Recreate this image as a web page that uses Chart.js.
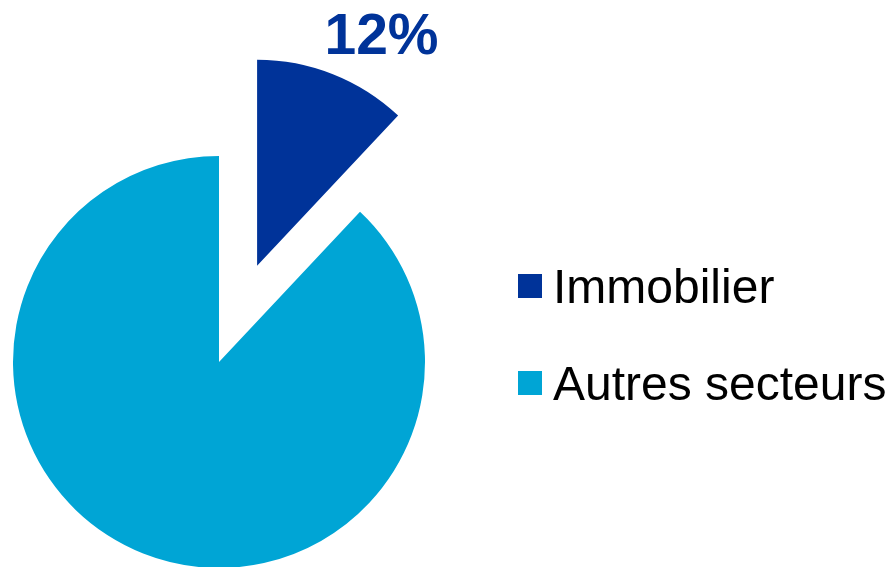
<!DOCTYPE html>
<html><head><meta charset="utf-8">
<style>html,body{margin:0;padding:0;background:#fff;overflow:hidden}
#wrap{position:relative;width:894px;height:567px}</style>
<script src="https://cdn.jsdelivr.net/npm/chart.js@4/dist/chart.umd.min.js"></script>
</head><body><div id="wrap"><canvas id="c" width="894" height="567"></canvas></div>
<script>
const categories = ['Immobilier', 'Autres secteurs'];
const shares = [12, 88];
const sliceColors = ['#003399', '#00A5D5'];

const EXPLODE_INDEX = 0;
const EXPLODE_DIST = 103.5;

const explodePlugin = {
  id: 'explode',
  afterDatasetsUpdate(chart) {
    const el = chart.getDatasetMeta(0).data[EXPLODE_INDEX];
    const mid = (el.startAngle + el.endAngle) / 2;
    el.x += Math.cos(mid) * EXPLODE_DIST;
    el.y += Math.sin(mid) * EXPLODE_DIST;
  }
};

const labelPlugin = {
  id: 'pctLabel',
  afterDraw(chart) {
    const ctx = chart.ctx;
    const total = shares.reduce((a, b) => a + b, 0);
    ctx.save();
    ctx.font = 'bold 57px "Liberation Sans", Arial, sans-serif';
    ctx.fillStyle = sliceColors[EXPLODE_INDEX];
    ctx.textAlign = 'center';
    ctx.textBaseline = 'alphabetic';
    ctx.fillText(Math.round(shares[EXPLODE_INDEX] / total * 100) + '%', 381.5, 53.5);
    ctx.restore();
  }
};

const legendPlugin = {
  id: 'sideLegend',
  afterDraw(chart) {
    const ctx = chart.ctx;
    ctx.save();
    ctx.font = '48px "Liberation Sans", Arial, sans-serif';
    ctx.textAlign = 'left';
    ctx.textBaseline = 'alphabetic';
    categories.forEach((name, i) => {
      const cy = 286 + i * 97;
      ctx.fillStyle = sliceColors[i];
      ctx.fillRect(518, cy - 12, 24, 24);
      ctx.fillStyle = '#000';
      ctx.fillText(name, 553, cy + 16.5);
    });
    ctx.restore();
  }
};

new Chart(document.getElementById('c'), {
  type: 'pie',
  data: {
    labels: categories,
    datasets: [{
      data: shares,
      backgroundColor: sliceColors,
      borderWidth: 0,
      clip: false
    }]
  },
  options: {
    responsive: false,
    animation: false,
    events: [],
    radius: 206,
    layout: { padding: { left: 1, right: 457, top: 157, bottom: 0 } },
    plugins: { legend: { display: false }, tooltip: { enabled: false }, title: { display: false } }
  },
  plugins: [explodePlugin, labelPlugin, legendPlugin]
});
</script></body></html>
